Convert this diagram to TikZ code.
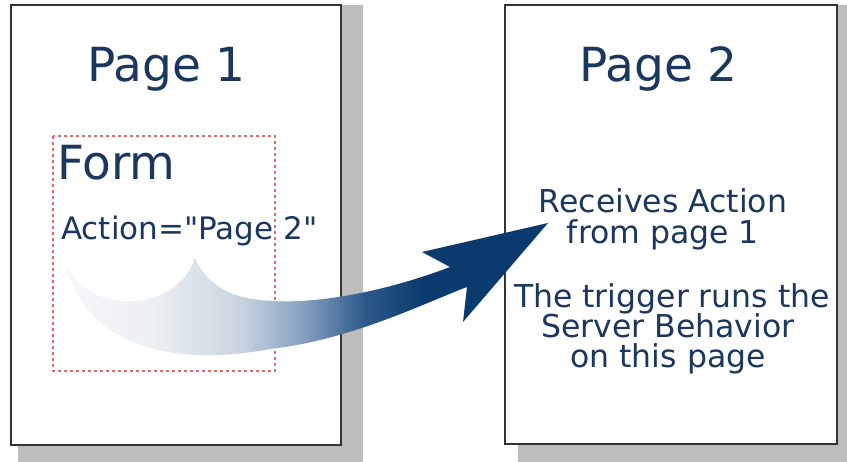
\documentclass[tikz,border=0pt]{standalone}
\usepackage{fontspec}
\setmainfont{DejaVu Sans}[Ligatures=TeXOff]
\definecolor{txt}{HTML}{1B375D}
\definecolor{frame}{HTML}{333333}
\definecolor{shadowgray}{HTML}{BDBDBD}
\definecolor{formred}{HTML}{E06A6A}
\definecolor{swa}{HTML}{F6F7F9}
\definecolor{swb}{HTML}{ECEFF3}
\definecolor{swc}{HTML}{CBD5E0}
\definecolor{swd}{HTML}{819DBD}
\definecolor{swe}{HTML}{2E5A8B}
\definecolor{navy}{HTML}{0A3A6E}
\pgfdeclarehorizontalshading{swoosh}{100bp}{color(0bp)=(swa); color(25bp)=(swa); color(34bp)=(swb); color(43bp)=(swc); color(50bp)=(swd); color(56bp)=(swe); color(62bp)=(navy); color(100bp)=(navy)}
\tikzset{
  pageframe/.style={draw=frame, line width=1.5pt, fill=white},
  pageshadow/.style={fill=shadowgray, draw=none},
  formbox/.style={draw=formred, line width=1.2pt, dash pattern=on 3pt off 3pt},
  bigtext/.style={text=txt, inner sep=0pt, anchor=base west, font=\fontsize{47}{56}\selectfont},
  midtext/.style={text=txt, inner sep=0pt, anchor=base west, font=\fontsize{31}{37}\selectfont},
  linetext/.style={text=txt, inner sep=0pt, anchor=base, font=\fontsize{31.5}{38}\selectfont},
}
\begin{document}
\begin{tikzpicture}[x=1pt, y=-1pt]
\useasboundingbox (0,0) rectangle (847,462);
% shadows
\fill[pageshadow] (18,5) rectangle (363,462);
\fill[pageshadow] (518,5) rectangle (847,462);
% pages
\draw[pageframe] (11,5) rectangle (341,445);
\draw[pageframe] (505,5) rectangle (837,444);
% form box
\draw[formbox] (53,136) rectangle (275,371);
% texts
\node[bigtext] (p1) at (87,82) {Page 1};
\node[bigtext] (p2) at (579,82) {Page 2};
\node[bigtext] (form) at (57,180) {Form};
\node[midtext] (action) at (61,240) {Action="Page 2"};
\node[linetext] (r1) at (663,213) {Receives Action};
\node[linetext] (r2) at (663,244) {from page 1};
\node[linetext] (r3) at (672,308) {The trigger runs the};
\node[linetext] (r4) at (668,338) {Server Behavior};
\node[linetext] (r5) at (668,368) {on this page};
% swoosh arrow
\shade[shading=swoosh]
  (65,263) .. controls (85,345) and (170,368) .. (270,349)
  .. controls (350,340) and (420,305) .. (467,287)
  -- (463,322) -- (548,223) -- (422,252) -- (450,267)
  .. controls (390,290) and (310,308) .. (252,299)
  .. controls (222,294) and (203,278) .. (195,258)
  .. controls (178,312) and (88,318) .. (65,263) -- cycle;
\end{tikzpicture}
\end{document}
